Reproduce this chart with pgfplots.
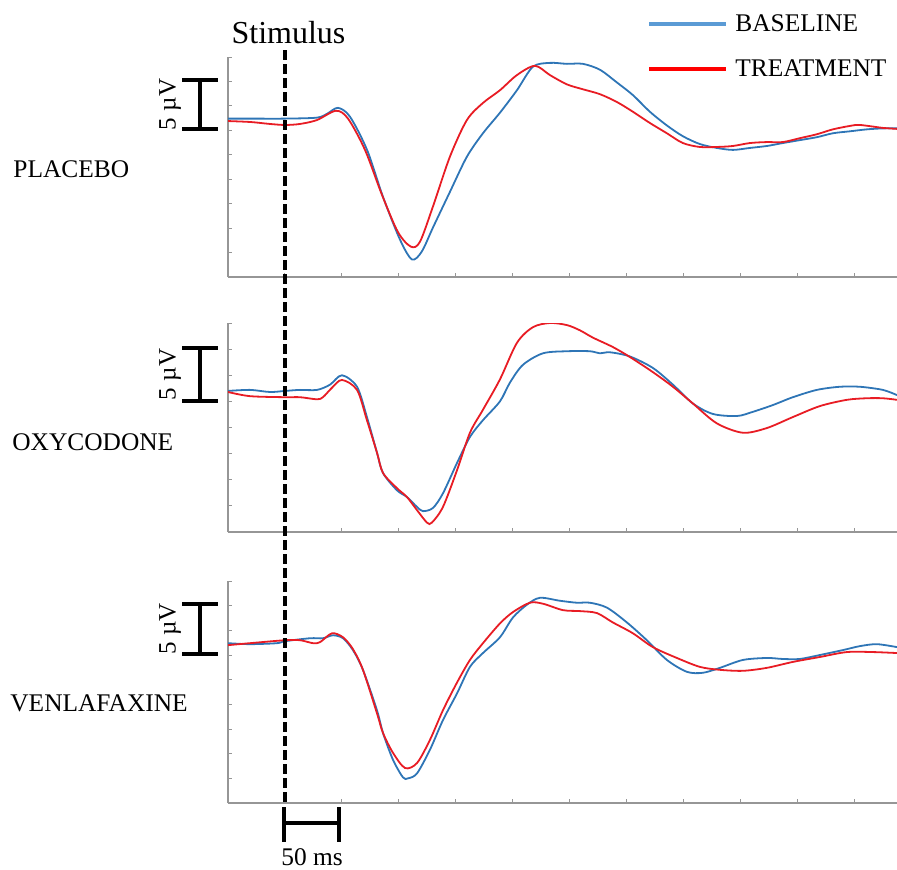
\documentclass[border=0pt]{standalone}
\usepackage{pgfplots}
\pgfplotsset{compat=1.18}
\usepackage{fontspec}
\setmainfont{Liberation Serif}

\definecolor{baseblue}{RGB}{46,117,182}
\definecolor{treatred}{RGB}{232,28,36}
\definecolor{legblue}{RGB}{91,155,213}
\definecolor{axgray}{RGB}{150,150,150}

% one pixel of the reference = 0.5pt
\pgfplotsset{
  erp/.style={
    scale only axis, width=334.5pt,
    xmin=-50, xmax=537,
    axis x line*=bottom, axis y line*=left,
    axis line style={axgray, line width=0.6pt},
    xtick={0,50,...,500}, xticklabels={}, yticklabels={},
    tick style={axgray, line width=0.5pt},
    tick align=inside, major tick length=2pt,
  },
  base/.style={baseblue, line width=0.9pt, smooth, tension=0.5, no markers},
  treat/.style={treatred, line width=0.9pt, smooth, tension=0.5, no markers},
}

\begin{document}
\begin{tikzpicture}
\path[use as bounding box] (0pt,0pt) rectangle (448.5pt,-434.5pt);
\clip (0pt,0pt) rectangle (448.5pt,-434.5pt);

% PLACEBO
\begin{axis}[erp, at={(114pt,-138.5pt)}, anchor=south west, height=110pt,
  ymin=-15, ymax=7.5, ytick={-15,-12.5,...,7.5}]
\addplot[base] coordinates {
(-50,1.2)(-30,1.2)(0,1.2)(28,1.3)(37,1.7)(46.5,2.3)(57,1.4)(72,-2.0)(86,-6.8)(101,-11.2)
(111.4,-13.2)(120,-12.4)(130,-9.9)(144.7,-6.3)(159.6,-2.7)(173.7,-0.3)(188.6,1.8)(203.5,4.1)
(217.5,6.5)(232.5,6.9)(247.4,6.8)(261.4,6.8)(276.3,6.2)(291.2,4.9)(305.3,3.6)(320.2,1.9)
(335.1,0.5)(349.1,-0.6)(364,-1.4)(378.9,-1.8)(393,-2.0)(407.9,-1.8)(422.8,-1.6)(436.8,-1.3)
(451.8,-1.0)(466.7,-0.7)(480.7,-0.3)(495.6,-0.1)(510.5,0.1)(524.6,0.2)(537,0.2)
};
\addplot[treat] coordinates {
(-50,0.95)(-30,0.85)(-13,0.65)(0,0.55)(13,0.65)(28,1.05)(44.7,2.0)(55.3,1.2)(70.2,-2.0)
(85.1,-6.6)(99.1,-10.4)(110.5,-11.9)(118.4,-11.4)(129.8,-7.8)(144.7,-2.7)(159.6,1.05)
(173.7,2.8)(188.6,4.1)(203.5,5.65)(219.3,6.6)(232.5,5.65)(247.4,4.7)(261.4,4.2)(276.3,3.7)
(291.2,2.9)(305.3,1.9)(320.2,0.75)(335.1,-0.3)(349.1,-1.3)(364,-1.7)(378.9,-1.7)(393,-1.6)
(407.9,-1.3)(422.8,-1.2)(436.8,-1.2)(451.8,-0.8)(466.7,-0.4)(480.7,0.1)(495.6,0.45)
(504.4,0.55)(524.6,0.25)(537,0.15)
};
\end{axis}

% OXYCODONE
\begin{axis}[erp, at={(114pt,-266pt)}, anchor=south west, height=104.5pt,
  ymin=-12.5, ymax=7.5, ytick={-12.5,-10,...,7.5}]
\addplot[base] coordinates {
(-50,1.0)(-30.7,1.1)(-13.2,0.9)(0,1.0)(13.2,1.1)(28.1,1.1)(39.5,1.6)(50,2.5)(63.2,1.4)
(71.9,-1.5)(80.7,-4.9)(86,-6.85)(98.2,-8.5)(107,-9.15)(115.8,-10.1)(121.1,-10.5)(129.8,-10.2)
(138.6,-8.8)(150.9,-5.9)(162.3,-3.4)(173.7,-1.8)(188.6,0.0)(197.4,1.8)(208.8,3.5)(226.3,4.6)
(247.4,4.8)(267.5,4.8)(276.3,4.6)(285.1,4.7)(302.6,4.3)(322.8,3.2)(340.4,1.6)(357.9,-0.2)
(375.4,-1.2)(396.5,-1.4)(410.5,-1.0)(428.1,-0.35)(445.6,0.4)(466.7,1.1)(486.8,1.4)
(504.4,1.4)(524.6,1.1)(537,0.6)
};
\addplot[treat] coordinates {
(-50,0.9)(-30.7,0.5)(0,0.4)(13.2,0.4)(28.1,0.2)(33.3,0.4)(41.2,1.3)(50,2.05)(63.2,1.1)
(71.9,-1.8)(80.7,-4.9)(86,-6.85)(98.2,-8.3)(107,-9.15)(115.8,-10.4)(124.6,-11.6)(128.9,-11.6)
(138.6,-10.1)(150.9,-6.6)(162.3,-3.0)(173.7,-0.8)(188.6,2.1)(203.5,5.6)(217.5,7.1)(232.5,7.5)
(247.4,7.3)(258.8,6.8)(270.2,6.1)(287.7,5.2)(302.6,4.25)(322.8,2.8)(340.4,1.4)(357.9,-0.2)
(378.9,-2.1)(401.8,-3.0)(422.8,-2.55)(445.6,-1.5)(469.3,-0.45)(493,0.15)(510.5,0.3)
(524.6,0.3)(537,0.15)
};
\end{axis}

% VENLAFAXINE
\begin{axis}[erp, at={(114pt,-401.5pt)}, anchor=south west, height=111pt,
  ymin=-15, ymax=7.5, ytick={-15,-12.5,...,7.5}]
\addplot[base] coordinates {
(-50,1.2)(-30.7,1.1)(-7,1.2)(0,1.4)(21.9,1.7)(33.3,1.7)(42.1,2.0)(50.9,1.7)(59.6,0.5)
(68.4,-1.5)(80.7,-5.6)(86,-7.9)(94.7,-10.6)(103.5,-12.4)(107.9,-12.5)(115.8,-12.0)(127.2,-9.6)
(138.6,-6.6)(150.9,-3.9)(162.3,-1.2)(173.7,0.2)(188.6,1.8)(200,3.8)(212.3,5.1)(223.7,5.8)
(241.2,5.5)(256.1,5.3)(267.5,5.3)(282.5,4.8)(300,3.3)(317.5,1.5)(335.1,-0.5)(352.6,-1.7)
(366.7,-1.8)(381.6,-1.3)(401.8,-0.5)(422.8,-0.3)(436.8,-0.4)(451.8,-0.4)(469.3,0.0)
(489.5,0.5)(504.4,0.9)(519.3,1.1)(537,0.8)
};
\addplot[treat] coordinates {
(-50,1.0)(-30.7,1.2)(0,1.5)(13.2,1.5)(24.6,1.2)(30.7,1.3)(41.2,2.2)(50.9,1.8)(59.6,0.6)
(68.4,-1.5)(80.7,-5.9)(86,-7.9)(94.7,-9.9)(105.3,-11.45)(115.8,-10.95)(127.2,-8.6)
(138.6,-5.6)(150.9,-2.8)(162.3,-0.5)(173.7,1.2)(188.6,3.2)(200,4.35)(214.9,5.3)(226.3,5.2)
(243.9,4.55)(258.8,4.45)(273.7,4.25)(287.7,3.3)(305.3,2.2)(322.8,0.8)(343.9,-0.3)(364,-1.2)
(381.6,-1.5)(401.8,-1.6)(422.8,-1.3)(445.6,-0.7)(469.3,-0.2)(493,0.3)(515.8,0.3)(537,0.2)
};
\end{axis}

\begin{scope}[x=0.5pt, y=-0.5pt]
  % stimulus marker
  \draw[black, line width=1.6pt, dash pattern=on 5pt off 2pt] (285,50) -- (285,803);
  \node[anchor=base, font=\fontsize{16}{18}\selectfont, inner sep=0pt] at (288.5,43) {Stimulus};

  % legend
  \draw[legblue, line width=1.6pt] (649,24) -- (726,24);
  \draw[red, line width=1.6pt] (649,69) -- (726,69);
  \node[anchor=base west, font=\fontsize{12.7}{14}\selectfont, inner sep=0pt] at (735,31) {BASELINE};
  \node[anchor=base west, font=\fontsize{12.7}{14}\selectfont, inner sep=0pt] at (735,76) {TREATMENT};

  % panel names
  \node[anchor=base west, font=\fontsize{12.7}{14}\selectfont, inner sep=0pt] at (13,177) {PLACEBO};
  \node[anchor=base west, font=\fontsize{12.7}{14}\selectfont, inner sep=0pt] at (12,450) {OXYCODONE};
  \node[anchor=base west, font=\fontsize{12.7}{14}\selectfont, inner sep=0pt] at (10,711) {VENLAFAXINE};

  % 5 uV scale bars
  \draw[black, line width=1.6pt] (200,80) -- (200,129) (182,80) -- (218,80) (182,129) -- (218,129);
  \draw[black, line width=1.6pt] (200,348) -- (200,401) (182,348) -- (218,348) (182,401) -- (218,401);
  \draw[black, line width=1.6pt] (200,604) -- (200,654) (182,604) -- (218,604) (182,654) -- (218,654);
  \node[rotate=90, font=\fontsize{12.5}{14}\selectfont, inner sep=0pt] at (170,104.5) {5 µV};
  \node[rotate=90, font=\fontsize{12.5}{14}\selectfont, inner sep=0pt] at (170,374.5) {5 µV};
  \node[rotate=90, font=\fontsize{12.5}{14}\selectfont, inner sep=0pt] at (170,629) {5 µV};

  % 50 ms scale bar
  \draw[black, line width=1.6pt] (284,807) -- (284,842) (339,807) -- (339,842) (284,823) -- (339,823);
  \node[anchor=base, font=\fontsize{12.7}{14}\selectfont, inner sep=0pt] at (312,865) {50 ms};
\end{scope}
\end{tikzpicture}
\end{document}
